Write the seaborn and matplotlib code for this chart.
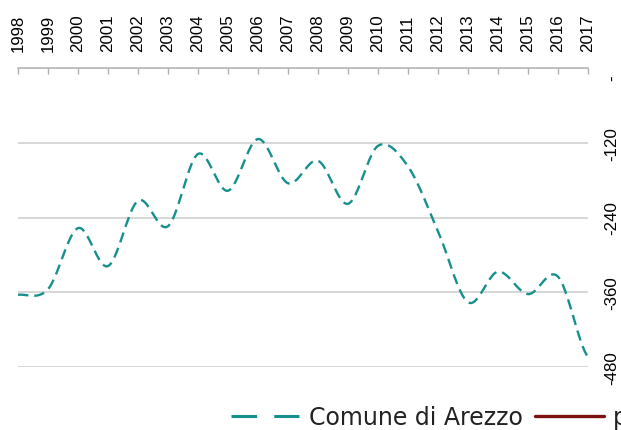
import numpy as np
import pandas as pd
import seaborn as sns
import matplotlib
matplotlib.use("Agg")
import matplotlib.pyplot as plt
from matplotlib.lines import Line2D

# values
years = list(range(1998, 2018))
arezzo = [-364, -355, -257, -318, -213, -254, -138, -197, -114, -185,
          -149, -218, -125, -158, -262, -376, -327, -363, -335, -464]
y_ticks = [0, -120, -240, -360, -480]
y_tick_labels = ["-    ", "-120", "-240", "-360", "-480"]
series_labels = ["Comune di Arezzo", "provincia di Arezzo"]

TEAL = "#16908c"
DARKRED = "#7c1010"
GRID = "#d4d4d4"


def smooth(x, y, n=24):
    """Catmull-Rom curve through the points, like a smoothed spreadsheet line."""
    x = np.asarray(x, dtype=float)
    y = np.asarray(y, dtype=float)
    yp = np.concatenate([[y[0]], y, [y[-1]]])
    xs, ys = [], []
    t = np.linspace(0, 1, n, endpoint=False)
    for i in range(len(y) - 1):
        p0, p1, p2, p3 = yp[i], yp[i + 1], yp[i + 2], yp[i + 3]
        seg = 0.5 * (2 * p1 + (-p0 + p2) * t
                     + (2 * p0 - 5 * p1 + 4 * p2 - p3) * t ** 2
                     + (-p0 + 3 * p1 - 3 * p2 + p3) * t ** 3)
        xs.append(x[i] + (x[i + 1] - x[i]) * t)
        ys.append(seg)
    xs.append([x[-1]])
    ys.append([y[-1]])
    return np.concatenate(xs), np.concatenate(ys)


sns.set_style("white")
plt.rcParams['font.family'] = ['Liberation Sans', 'DejaVu Sans']

fig = plt.figure(figsize=(6.21, 4.31), dpi=100)
ax = fig.add_axes([18 / 621, 1 - 368 / 431, 570 / 621, 299 / 431])

sx, sy = smooth(years, arezzo)
curve = pd.DataFrame({"anno": sx, "valore": sy})
sns.lineplot(data=curve, x="anno", y="valore", ax=ax, sort=False, estimator=None,
             color=TEAL, linewidth=1.7, linestyle=(0, (4.4, 2.5)))

ax.set_xlim(years[0], years[-1])
ax.set_ylim(-480, 0)
ax.set_xlabel("")
ax.set_ylabel("")

ax.set_xticks(years)
ax.set_xticklabels([str(y) for y in years], rotation=90, fontsize=12.2, color="black")
ax.xaxis.tick_top()
ax.tick_params(axis="x", direction="in", length=4, width=1, color="#b0b0b0",
               pad=12, top=True, bottom=False)

ax.set_yticks(y_ticks)
ax.set_yticklabels(y_tick_labels, rotation=90, fontsize=12.2, va="center", color="black")
ax.yaxis.tick_right()
ax.tick_params(axis="y", length=0, pad=12)

ax.grid(axis="y", color=GRID, linewidth=1.3)
ax.grid(axis="x", visible=False)
for side in ["left", "right", "bottom"]:
    ax.spines[side].set_visible(False)
ax.spines["top"].set_color("#b8b8b8")
ax.spines["top"].set_linewidth(1.2)

handles = [
    Line2D([], [], color=TEAL, linewidth=2.2, linestyle=(0, (8.4, 5.6))),
    Line2D([], [], color=DARKRED, linewidth=2.4),
]
leg = fig.legend(handles, series_labels, loc="center left",
                 bbox_to_anchor=(231 / 621, 1 - 418 / 431), ncol=2, frameon=False,
                 prop={"family": "DejaVu Sans", "size": 17},
                 handlelength=2.9, handletextpad=0.42, columnspacing=0.5,
                 borderpad=0, borderaxespad=0)
for txt in leg.get_texts():
    txt.set_color("#222222")

fig.savefig("out.png", dpi=100)
plt.close(fig)
